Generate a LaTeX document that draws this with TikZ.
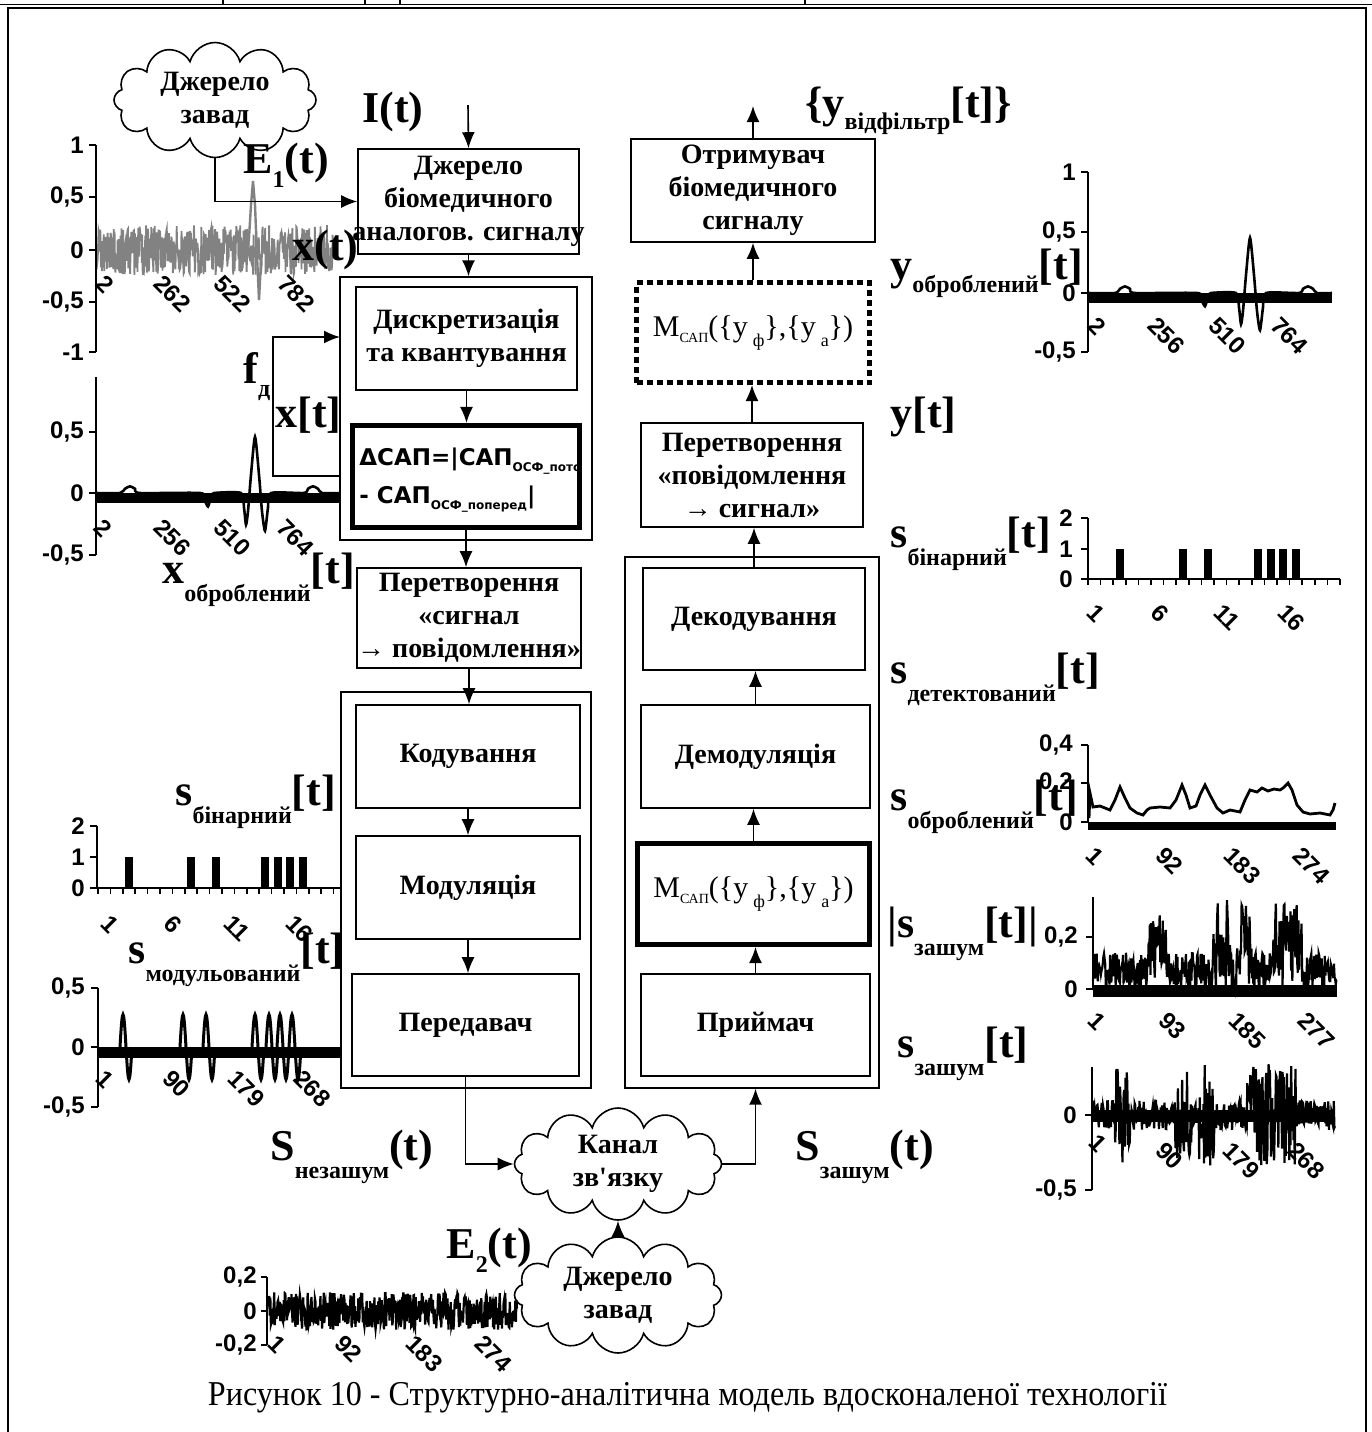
\documentclass[tikz,border=0pt]{standalone}
\usepackage{graphicx}
\usepackage{fontspec}
\setmainfont{Liberation Serif}
\newfontfamily\axf{Liberation Sans}
\newfontfamily\dvf{DejaVu Sans}
\usetikzlibrary{arrows.meta,shapes.symbols}
\definecolor{ngray}{RGB}{130,130,130}
\newcommand\Sb[2][9pt]{\raisebox{-#1}{\fontsize{12}{12}\selectfont #2}}
\begin{document}
\begin{tikzpicture}[x=0.5pt,y=-0.5pt]
\tikzset{
 box/.style={draw, line width=0.8pt, inner sep=0, align=center, font=\fontsize{14}{16.5}\selectfont\bfseries},
 grp/.style={draw, line width=0.7pt, inner sep=0},
 arr/.style={-{Latex[length=8pt,width=6.5pt]}, line width=0.8pt},
 ln/.style={line width=0.8pt},
 bigl/.style={font=\fontsize{22}{24}\selectfont\bfseries, inner sep=0, anchor=base west},
 tk/.style={font=\axf\bfseries\fontsize{12}{13}\selectfont, inner sep=0, anchor=east},
 xt/.style={font=\axf\bfseries\fontsize{12}{13}\selectfont, inner sep=0, anchor=north west, rotate=-45},
 ax/.style={line width=0.8pt},
 cl/.style={cloud, cloud puffs=12, cloud ignores aspect, draw, line width=0.8pt, inner sep=0, align=center, font=\fontsize{14}{16.5}\selectfont\bfseries},
 sig/.style={line width=1.3pt},
 nz/.style={line width=1.1pt},
}
\useasboundingbox (0,0) rectangle (1372,1432);
\fill[white] (0,0) rectangle (1372,1432);

% frame
\draw[ln] (8,1445) -- (8,8) -- (1366,8) -- (1366,1445);
\draw[ln] (0,4.5) -- (1372,4.5);
\foreach \q in {223,365,400,805} \draw[ln] (\q,0) -- (\q,4.5);

% ---------------- Chart A : E1 + x(t)
\pgfmathsetseed{11}
\draw[ngray, line width=0.9pt] plot[domain=96:333, samples=550] (\x,{250-104*0.24*rand});
\draw[ngray, line width=1.2pt] (246,262) -- (249,238) -- (251,205) -- (253,181) -- (255,205) -- (257,255) -- (259,300) -- (261,262);
\draw[ax] (96,145) -- (96,352);
\foreach \t/\l in {145/1,197/{0,5},250/0,302/{-0,5},352/{-1}} {\draw[ax] (89,\t) -- (96,\t); \node[tk] (tA\t) at (84,\t) {\l};}
\foreach \p/\l in {106/2,164/262,224/522,288/782} \node[xt] (xA\l) at (\p,273) {\l};

% ---------------- Chart B : x_obr
\begin{scope}[shift={(96,493)}, yscale=-122]
 \fill (0,0) rectangle (244,-0.085);
 \draw[sig] plot[smooth, tension=0.4] coordinates {(0,0) (24,0) (29,0.035) (34,0.055) (39,0.035) (44,0) (104,0) (108,-0.05) (112,-0.11) (115,-0.03) (118,0) (145,0) (148,-0.12) (150,-0.26) (152,-0.15) (155,0.15) (159,0.46) (163,0.15) (166,-0.15) (169,-0.31) (172,-0.12) (175,0) (208,0) (212,0.035) (217,0.055) (222,0.035) (226,0) (244,0)};
\end{scope}
\draw[ax] (96,377) -- (96,555);
\foreach \t/\l in {432/{0,5},493/0,555/{-0,5}} {\draw[ax] (89,\t) -- (96,\t); \node[tk] (tB\t) at (84,\t) {\l};}
\foreach \p/\l in {104/2,164/256,224/510,287/764} \node[xt] (xB\l) at (\p,517) {\l};

% ---------------- Chart C : y_obr (right)
\begin{scope}[shift={(1088,293)}, yscale=-120]
 \fill (0,0) rectangle (244,-0.085);
 \draw[sig] plot[smooth, tension=0.4] coordinates {(0,0) (27,0) (32,0.035) (37,0.055) (42,0.035) (47,0) (109,0) (113,-0.05) (117,-0.11) (120,-0.03) (123,0) (148,0) (151,-0.12) (153,-0.26) (155,-0.15) (158,0.15) (162,0.46) (166,0.15) (169,-0.15) (172,-0.31) (175,-0.12) (178,0) (211,0) (215,0.035) (220,0.055) (225,0.035) (229,0) (244,0)};
\end{scope}
\draw[ax] (1088,172) -- (1088,352);
\foreach \t/\l in {172/1,232/{0,5},293/0,352/{-0,5}} {\draw[ax] (1081,\t) -- (1088,\t); \node[tk] (tC\t) at (1076,\t) {\l};}
\foreach \p/\l in {1098/2,1158/256,1219/510,1281/764} \node[xt] (xC\l) at (\p,315) {\l};

% ---------------- Chart D : binary left
\draw[ax] (97,826) -- (97,888) -- (340,888);
\foreach \t/\l in {826/2,857/1,888/0} {\draw[ax] (90,\t) -- (97,\t); \node[tk] (tD\t) at (85,\t) {\l};}
\foreach \k in {0,...,19} \draw[ax] ({98+12.4*\k},888) -- ++(0,6);
\foreach \i in {3,8,10,14,15,16,17} \fill ({98+12.4*(\i-0.5)-4},888) rectangle ++(8,-31);
\foreach \p/\l in {111/1,174/6,234/11,296/16} \node[xt] (xD\l) at (\p,913) {\l};

% ---------------- Chart E : modulated
\fill (98,1047) rectangle (340,1058);
\foreach \c in {126,186,209,258,272,283,295} \draw[line width=1.5pt] plot[domain=0:1, samples=21, smooth] ({\c-6+12*\x},{1047-120*0.27*sin(360*\x)});
\draw[ax] (98,988) -- (98,1107);
\foreach \t/\l in {988/{0,5},1047/0,1107/{-0,5}} {\draw[ax] (91,\t) -- (98,\t); \node[tk] (tE\t) at (85,\t) {\l};}
\foreach \p/\l in {106/1,173/90,238/179,304/268} \node[xt] (xE\l) at (\p,1068) {\l};

% ---------------- Chart F : E2 noise
\draw[nz] plot[domain=267:517, samples=450] (\x,{1311-170*0.11*rand});
\draw[ax] (267,1277) -- (267,1345);
\foreach \t/\l in {1277/{0,2},1311/0,1345/{-0,2}} {\draw[ax] (261,\t) -- (267,\t); \node[tk] (tF\t) at (257,\t) {\l};}
\foreach \p/\l in {278/1,345/92,416/183,485/274} \node[xt] (xF\l) at (\p,1333) {\l};

% ---------------- Chart G : binary right
\draw[ax] (1088,518) -- (1088,579) -- (1340,579);
\foreach \t/\l in {518/2,549/1,579/0} {\draw[ax] (1081,\t) -- (1088,\t); \node[tk] (tG\t) at (1073,\t) {\l};}
\foreach \k in {0,...,20} \draw[ax] ({1088+12.6*\k},579) -- ++(0,6);
\foreach \i in {3,8,10,14,15,16,17} \fill ({1088+12.6*(\i-0.5)-4},579) rectangle ++(8,-30);
\foreach \p/\l in {1097/1,1161/6,1224/11,1288/16} \node[xt] (xG\l) at (\p,602) {\l};

% ---------------- Chart H : detected
\fill (1088,822) rectangle (1336,830);
\draw[line width=1.4pt] (1089,818) -- (1090,793) -- (1093,807) -- (1100,806) -- (1110,810) -- (1115,800) -- (1120,787) -- (1125,798) -- (1130,808) -- (1137,813) -- (1143,815) -- (1147,810) -- (1150,808) -- (1160,807) -- (1170,808) -- (1176,800) -- (1182,785) -- (1186,795) -- (1190,808) -- (1196,806) -- (1200,795) -- (1205,785) -- (1210,795) -- (1217,808) -- (1223,813) -- (1230,810) -- (1240,812) -- (1245,800) -- (1250,790) -- (1257,792) -- (1262,788) -- (1268,791) -- (1274,789) -- (1280,790) -- (1283,788) -- (1288,783) -- (1292,790) -- (1297,805) -- (1303,812) -- (1310,814) -- (1320,813) -- (1330,815) -- (1333,810) -- (1335,803);
\draw[ax] (1088,745) -- (1088,822);
\foreach \t/\l in {745/{0,4},783/{0,2},822/0} {\draw[ax] (1081,\t) -- (1088,\t); \node[tk] (tH\t) at (1073,\t) {\l};}
\foreach \p/\l in {1096/1,1166/92,1234/183,1303/274} \node[xt] (xH\l) at (\p,845) {\l};

% ---------------- Chart I : |s noisy|
\fill (1093,985) rectangle (1337,997);
\draw[nz] plot[domain=1093:1337, samples=400] (\x,{989-260*abs(rand)*(0.14+0.16*((\x>1148)*(\x<1166))+0.22*((\x>1213)*(\x<1232))+0.2*((\x>1237)*(\x<1252))+0.2*((\x>1272)*(\x<1302)))});
\draw[ax] (1093,897) -- (1093,989);
\foreach \t/\l in {937/{0,2},989/0} {\draw[ax] (1086,\t) -- (1093,\t); \node[tk] (tI\t) at (1078,\t) {\l};}
\foreach \p/\l in {1098/1,1169/93,1239/185,1308/277} \node[xt] (xI\l) at (\p,1010) {\l};

% ---------------- Chart J : s noisy
\fill (1092,1110) rectangle (1335,1122);
\draw[nz] plot[domain=1092:1335, samples=400] (\x,{1115-150*rand*(0.1+0.22*((\x>1115)*(\x<1130))+0.2*((\x>1175)*(\x<1192))+0.24*((\x>1198)*(\x<1214))+0.24*((\x>1247)*(\x<1297)))});
\draw[ax] (1092,1067) -- (1092,1190);
\foreach \t/\l in {1115/0,1190/{-0,5}} {\draw[ax] (1085,\t) -- (1092,\t); \node[tk] (tJ\t) at (1077,\t) {\l};}
\node[xt] (xJ1) at (1099,1132) {1};
\foreach \p/\l in {1166/90,1233/179,1298/268} \node[xt] (xJ\l) at (\p,1140) {\l};

% ---------------- Left column blocks
\node[grp, minimum width=126pt, minimum height=131.5pt] (grp1) at (466,408.5) {};
\node[grp, minimum width=125pt, minimum height=198pt] (grp2) at (466,890) {};
\node[box, minimum width=110.5pt, minimum height=52.5pt] (src) at (468.5,201.5) {Джерело\\біомедичного\\\makebox[100pt]{аналогов. сигналу}};
\node[box, minimum width=110.5pt, minimum height=51.5pt] (disc) at (466.5,338.5) {Дискретизація\\та квантування};
\node[draw, line width=2.6pt, minimum width=113.5pt, minimum height=51pt, inner sep=0] (dsap) at (466,476.5) {};
\begin{scope}
 \clip (354,427) rectangle (578,526);
 \node[font=\dvf\bfseries\fontsize{11.5}{12}\selectfont, inner sep=0, anchor=base west] (dsapA) at (359,465) {ΔСАП=|САП\raisebox{-3pt}{\fontsize{6}{7}\selectfont ОСФ\_поточ}};
 \node[font=\dvf\bfseries\fontsize{11.5}{12}\selectfont, inner sep=0, anchor=base west] (dsapB) at (359,503) {- САП\raisebox{-3pt}{\fontsize{6}{7}\selectfont ОСФ\_поперед}|};
\end{scope}
\node[box, minimum width=111pt, minimum height=50pt] (conv1) at (469,618) {Перетворення\\«сигнал\\→ повідомлення»};
\node[box, minimum width=112pt, minimum height=51.5pt] (cod) at (468,756.5) {Кодування};
\node[box, minimum width=112pt, minimum height=51.5pt] (mod) at (468,887.5) {Модуляція};
\node[box, minimum width=113.5pt, minimum height=51pt] (tx) at (465.5,1025) {Передавач};

% ---------------- Right column blocks
\node[grp, minimum width=127pt, minimum height=265.5pt] (grp3) at (752,822.5) {};
\node[box, minimum width=122pt, minimum height=51.5pt] (rcv) at (753,190.5) {Отримувач\\біомедичного\\сигналу};
\node[draw, line width=2.5pt, dash pattern=on 3pt off 2pt, minimum width=116.5pt, minimum height=50pt, inner sep=0, font=\fontsize{15}{16}\selectfont] (msap1) at (753,332.5) {M\raisebox{-3pt}{\fontsize{7}{7}\selectfont САП}(\{y\,\raisebox{-5pt}{\fontsize{9}{9}\selectfont ф}\},\{y\,\raisebox{-5pt}{\fontsize{9}{9}\selectfont а}\})};
\node[box, minimum width=111pt, minimum height=52pt] (conv2) at (752,475) {Перетворення\\«повідомлення\\→ сигнал»};
\node[box, minimum width=111pt, minimum height=51pt] (dec) at (754,619) {Декодування};
\node[box, minimum width=114.5pt, minimum height=51.5pt] (dem) at (755.5,756.5) {Демодуляція};
\node[draw, line width=2.5pt, minimum width=116pt, minimum height=50.5pt, inner sep=0, font=\fontsize{15}{16}\selectfont] (msap2) at (753.5,894) {M\raisebox{-3pt}{\fontsize{7}{7}\selectfont САП}(\{y\,\raisebox{-5pt}{\fontsize{9}{9}\selectfont ф}\},\{y\,\raisebox{-5pt}{\fontsize{9}{9}\selectfont а}\})};
\node[box, minimum width=114.5pt, minimum height=51pt] (rx) at (755.5,1025) {Приймач};

% ---------------- Clouds
\node[cl, minimum width=101pt, minimum height=57.5pt] (cloudA) at (215,100) {Джерело\\завад};
\node[cl, minimum width=103.5pt, minimum height=56pt] (chan) at (618,1164) {Канал\\зв\textquotesingle язку};
\node[cl, minimum width=103.5pt, minimum height=58pt] (cloudB) at (618,1295) {Джерело\\завад};

% ---------------- Connectors
\coordinate (Itop) at (468,105);
\coordinate (Ytop) at (753,106);
\coordinate (fd1) at (340,476);
\coordinate (fd2) at (340,337);
\draw[arr] (Itop) -- (src.north);
\draw[arr] (cloudA.south) |- (src.west);
\draw[arr] (src.south) -- (src.south |- grp1.north);
\draw[arr] (disc.south) -- (disc.south |- dsap.north);
\draw[arr] (fd1) -- ++(-67,0) |- (fd2);
\draw[arr] (dsap.south) -- (dsap.south |- conv1.north);
\draw[arr] (conv1.south) -- (conv1.south |- cod.north);
\draw[arr] (cod.south) -- (cod.south |- mod.north);
\draw[arr] (mod.south) -- (mod.south |- tx.north);
\draw[arr] (tx.south) |- (chan.west);
\draw[arr] (chan.east) -| (rx.south |- grp3.south);
\draw[arr] (cloudB.north) -- (chan.south);
\draw[arr] (rx.north) -- (rx.north |- msap2.south);
\draw[arr] (msap2.north) -- (msap2.north |- dem.south);
\draw[arr] (dem.north) -- (dem.north |- dec.south);
\draw[arr] (dec.north) -- (dec.north |- conv2.south);
\draw[arr] (conv2.north) -- (conv2.north |- msap1.south);
\draw[arr] (msap1.north) -- (msap1.north |- rcv.south);
\draw[arr] (rcv.north) -- (Ytop);

% ---------------- Labels
\node[bigl] (lI) at (362,122) {I(t)};
\node[bigl] (lE1) at (243,173) {E\Sb[7pt]{1}(t)};
\node[bigl] (lx) at (292,260) {x(t)};
\node[bigl] (lfd) at (243,383) {f\Sb[6.5pt]{д}};
\node[bigl] (lxt) at (275,427) {x[t]};
\node[bigl] (lxo) at (162,583) {x\Sb{оброблений}[t]};
\node[bigl] (lsb) at (175,805) {s\Sb{бінарний}[t]};
\node[bigl] (lsm) at (128,963) {s\Sb{модульований}[t]};
\node[bigl] (lSn) at (270,1160) {S\Sb{незашум}(t)};
\node[bigl] (lE2) at (446,1258) {E\Sb[7pt]{2}(t)};
\node[bigl] (lSz) at (795,1160) {S\Sb{зашум}(t)};
\node[bigl] (lyv) at (805,117) {\{y\Sb[6pt]{відфільтр}[t]\}};
\node[bigl] (lyo) at (890,279) {y\Sb[6.5pt]{оброблений}[t]};
\node[bigl] (lyt) at (890,427) {y[t]};
\node[bigl] (lsbr) at (890,547) {s\Sb{бінарний}[t]};
\node[bigl] (lsd) at (890,683) {s\Sb{детектований}[t]};
\node[bigl] (lso) at (890,810) {s\Sb{оброблений}[t]};
\node[bigl] (lsza) at (887,937) {|s\Sb{зашум}[t]|};
\node[bigl] (lsz) at (897,1057) {s\Sb{зашум}[t]};

% ---------------- Caption
\node[inner sep=0, anchor=base] (cap) at (687.5,1405) {\resizebox{479.5pt}{11.6pt}{Рисунок 10 - Структурно-аналітична модель вдосконаленої технології}};
\end{tikzpicture}
\end{document}
